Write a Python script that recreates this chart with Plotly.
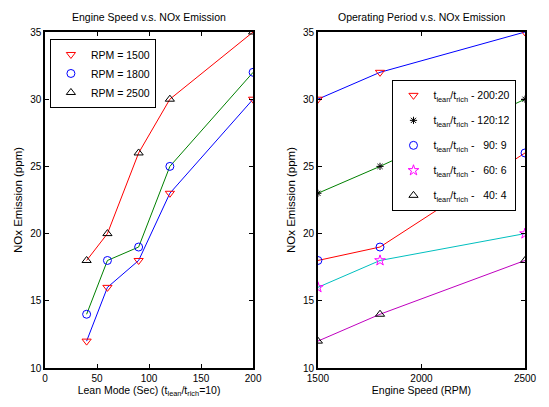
import plotly.graph_objects as go

# ---- Data: left panel (NOx vs lean mode time) ----
lean_time = [40, 60, 90, 120, 200]
nox_rpm1500 = [12, 16, 18, 23, 30]
nox_rpm1800 = [14, 18, 19, 25, 32]
nox_rpm2500 = [18, 20, 26, 30, 35]
left_labels = ["RPM = 1500", "RPM = 1800", "RPM = 2500"]

# ---- Data: right panel (NOx vs engine speed) ----
engine_speed = [1500, 1800, 2500]
nox_200_20 = [30, 32, 35]
nox_120_12 = [23, 25, 30]
nox_90_9 = [18, 19, 26]
nox_60_6 = [16, 18, 20]
nox_40_4 = [12, 14, 18]
ratio_labels = ["200:20", "120:12", "\u00a0\u00a090:\u00a09", "\u00a0\u00a060:\u00a06", "\u00a0\u00a040:\u00a04"]

x_ticks_left = [0, 50, 100, 150, 200]
x_ticks_right = [1500, 2000, 2500]
y_ticks = [10, 15, 20, 25, 30, 35]

FONT = "Arial"
W, H = 549, 407
ML, MR, MT, MB = 45, 15, 32, 38
PW = W - ML - MR
PH = H - MT - MB

def px_x(p):
    return (p - ML) / PW

def px_y(p):
    return 1 - (p - MT) / PH

fig = go.Figure()

left_sets = [
    (nox_rpm1500, "triangle-down-open", "red", "blue"),
    (nox_rpm1800, "circle-open", "blue", "green"),
    (nox_rpm2500, "triangle-up-open", "black", "red"),
]
for (vals, sym, mcol, lcol), lab in zip(left_sets, left_labels):
    fig.add_trace(go.Scatter(x=lean_time, y=vals, mode="lines",
                             line=dict(color=lcol, width=1), showlegend=False,
                             xaxis="x", yaxis="y", hoverinfo="skip"))
for (vals, sym, mcol, lcol), lab in zip(left_sets, left_labels):
    fig.add_trace(go.Scatter(x=lean_time, y=vals, mode="markers", name=lab,
                             marker=dict(symbol=sym, color=mcol, size=8,
                                         line=dict(width=1, color=mcol)),
                             xaxis="x", yaxis="y", legend="legend",
                             legendgroup="L" + lab))

right_sets = [
    (nox_200_20, "triangle-down-open", "red", "blue", 8),
    (nox_120_12, "asterisk-open", "black", "green", 6),
    (nox_90_9, "circle-open", "blue", "red", 8),
    (nox_60_6, "star-open", "magenta", "#00BFBF", 8),
    (nox_40_4, "triangle-up-open", "black", "#BF00BF", 8),
]
for (vals, sym, mcol, lcol, sz) in right_sets:
    fig.add_trace(go.Scatter(x=engine_speed, y=vals, mode="lines",
                             line=dict(color=lcol, width=1), showlegend=False,
                             xaxis="x2", yaxis="y2", hoverinfo="skip"))
for (vals, sym, mcol, lcol, sz), lab in zip(right_sets, ratio_labels):
    name = "t<sub>lean</sub>/t<sub>rich</sub> - " + lab
    fig.add_trace(go.Scatter(x=engine_speed, y=vals, mode="markers", name=name,
                             marker=dict(symbol=sym, color=mcol, size=sz,
                                         line=dict(width=1, color=mcol)),
                             xaxis="x2", yaxis="y2", legend="legend2",
                             legendgroup="R" + lab))

axis_common = dict(showline=True, linecolor="black", linewidth=1.5, mirror="ticks",
                   ticks="inside", ticklen=4, tickwidth=1, tickcolor="black",
                   showgrid=False, zeroline=False,
                   tickfont=dict(family=FONT, size=10, color="black"))

ytitle_font = dict(family=FONT, size=11.5)

fig.update_layout(
    width=W, height=H,
    margin=dict(l=ML, r=MR, t=MT, b=MB),
    paper_bgcolor="white", plot_bgcolor="white",
    font=dict(family=FONT, size=10, color="black"),
    xaxis=dict(domain=[0, px_x(257)], range=[0, 200], tickvals=x_ticks_left,
               title=dict(text="Lean Mode (Sec) (t<sub>lean</sub>/t<sub>rich</sub>=10)",
                          font=dict(size=10.5), standoff=4),
               anchor="y", **axis_common),
    yaxis=dict(domain=[0, 1], range=[10, 35], tickvals=y_ticks,
               title=dict(text="NOx Emission (ppm)", font=ytitle_font, standoff=5),
               anchor="x", **axis_common),
    xaxis2=dict(domain=[px_x(323), 1], range=[1500, 2500], tickvals=x_ticks_right,
                title=dict(text="Engine Speed (RPM)", font=dict(size=10.5), standoff=4),
                anchor="y2", **axis_common),
    yaxis2=dict(domain=[0, 1], range=[10, 35], tickvals=y_ticks,
                title=dict(text="NOx Emission (ppm)", font=ytitle_font, standoff=5),
                anchor="x2", **axis_common),
    legend=dict(x=px_x(50), y=px_y(39), xanchor="left", yanchor="top",
                bgcolor="white", bordercolor="black", borderwidth=1,
                font=dict(family=FONT, size=10.5), traceorder="normal"),
    legend2=dict(x=px_x(399), y=px_y(80), xanchor="left", yanchor="top",
                 bgcolor="white", bordercolor="black", borderwidth=1,
                 font=dict(family=FONT, size=10.5), traceorder="grouped",
                 tracegroupgap=6),
    annotations=[
        dict(text="Engine Speed v.s. NOx Emission", x=(px_x(45) + px_x(257)) / 2,
             y=px_y(17), xref="paper", yref="paper", showarrow=False,
             xanchor="center", yanchor="middle",
             font=dict(family=FONT, size=10.5)),
        dict(text="Operating Period v.s. NOx Emission", x=(px_x(323) + 1) / 2,
             y=px_y(17), xref="paper", yref="paper", showarrow=False,
             xanchor="center", yanchor="middle",
             font=dict(family=FONT, size=10.5)),
    ],
)

fig.write_html("out.html")
